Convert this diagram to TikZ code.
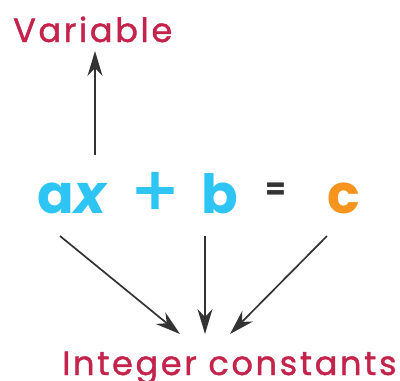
\documentclass[tikz,border=0pt]{standalone}
\usepackage{fontspec}
\setmainfont{Poppins}
\newfontfamily\labelfont[LetterSpace=8,FakeBold=1.2]{Poppins}
\newfontfamily\eqfont{Poppins}
\newfontfamily\plusfont[FakeBold=2]{Poppins}
\usetikzlibrary{arrows.meta}
\definecolor{crim}{HTML}{C4234B}
\definecolor{cyanb}{HTML}{2EC5F5}
\definecolor{orng}{HTML}{F7941D}
\definecolor{dgray}{HTML}{333333}
\tikzset{
  lbl/.style={text=crim, font=\labelfont\fontsize{33.5}{33.5}\selectfont, inner sep=0pt, anchor=base west},
  eq/.style={font=\eqfont\bfseries\fontsize{54}{54}\selectfont, inner sep=0pt, anchor=base},
  conn/.style={draw=dgray, line width=1.7pt, -{Stealth[length=25pt,width=15pt,inset=8pt]}}
}
\begin{document}
\begin{tikzpicture}[x=1pt,y=-1pt]
\useasboundingbox (0,0) rectangle (400,381);
\node[lbl] (var) at (13,42) {Variable};
\node[lbl] (ic) at (62,375) {Integer constants};
\node[eq, text=cyanb] (ax) at (73,213) {a\textit{x}};
\node[eq, text=cyanb, font=\plusfont\fontsize{70}{70}\selectfont] (plus) at (155,216) {+};
\node[eq, text=cyanb] (b) at (220,213) {b};
\node[eq, text=dgray, font=\eqfont\bfseries\fontsize{30}{30}\selectfont] (eqs) at (276,199) {=};
\node[eq, text=orng] (c) at (344,213) {c};
\coordinate (axtop) at (95,155);
\coordinate (vbot) at (95,51);
\coordinate (s1) at (60,236);
\coordinate (s2) at (205,236);
\coordinate (s3) at (327,236);
\coordinate (e1) at (180,334);
\coordinate (e2) at (205,334);
\coordinate (e3) at (230,334);
\draw[conn] (axtop) -- (vbot);
\draw[conn] (s1) -- (e1);
\draw[conn] (s2) -- (e2);
\draw[conn] (s3) -- (e3);
\end{tikzpicture}
\end{document}
